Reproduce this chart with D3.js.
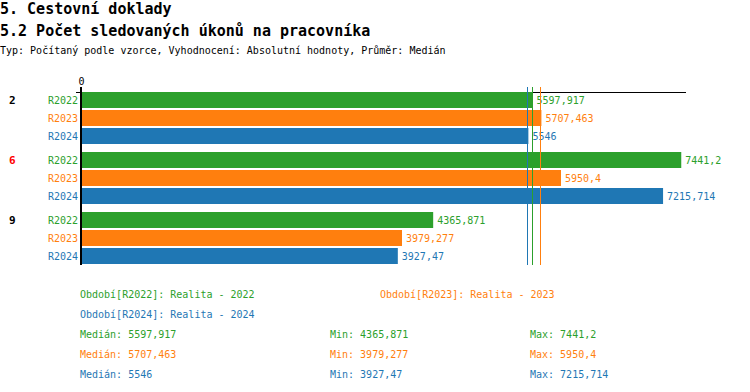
<!DOCTYPE html>
<html><head><meta charset="utf-8">
<script src="https://cdn.jsdelivr.net/npm/d3@7"></script>
<style>body{margin:0;background:#fff}text{font-family:"DejaVu Sans Mono",monospace}</style>
</head><body>
<svg id="c" width="750" height="392"></svg>
<script>
const categories = ["2","6","9"];
const categoryColors = ["#000000","#ff0000","#000000"];
const series = ["R2022","R2023","R2024"];
const seriesColors = ["#2ca02c","#ff7f0e","#1f77b4"];
const values2022 = [5597.917, 7441.2, 4365.871];
const values2023 = [5707.463, 5950.4, 3979.277];
const values2024 = [5546, 7215.714, 3927.47];
const medians = [5597.917, 5707.463, 5546];
const mins = [4365.871, 3979.277, 3927.47];
const maxs = [7441.2, 5950.4, 7215.714];
const legendNames = ["Období[R2022]: Realita - 2022","Období[R2023]: Realita - 2023","Období[R2024]: Realita - 2024"];
const xTicks = [0];

const allValues = [values2022, values2023, values2024];
const fmt = v => String(v).replace(".", ",");
const svg = d3.select("#c");

svg.append("text").attr("x",0).attr("y",14).attr("font-size",15).attr("font-weight","bold").text("5. Cestovní doklady");
svg.append("text").attr("x",0).attr("y",36).attr("font-size",15).attr("font-weight","bold").text("5.2 Počet sledovaných úkonů na pracovníka");
svg.append("text").attr("x",0).attr("y",54).attr("font-size",10).text("Typ: Počítaný podle vzorce, Vyhodnocení: Absolutní hodnoty, Průměr: Medián");

const x = d3.scaleLinear().domain([0,7500]).range([81,686]);
const y0 = d3.scaleBand().domain(categories).range([92,272]);
const y1 = d3.scaleBand().domain(series).range([0,52]).paddingInner(2/18);

// top axis
const ax = svg.append("g").attr("transform","translate(0,92)")
  .call(d3.axisTop(x).tickValues(xTicks).tickSize(0).tickPadding(7).tickFormat(d3.format("d")));
ax.select(".domain").remove();
ax.selectAll("text").attr("font-size",10).attr("font-family","DejaVu Sans Mono").attr("fill","#000");
svg.append("line").attr("x1",76).attr("x2",x(7500)).attr("y1",92.5).attr("y2",92.5).attr("stroke","#000");

categories.forEach((c,ci)=>{
  const gy = y0(c);
  svg.append("text").attr("x",9).attr("y",gy+y1.bandwidth()/2+4).attr("font-size",11).attr("font-weight","bold")
    .attr("fill",categoryColors[ci]).text(c);
  series.forEach((s,si)=>{
    const v = allValues[si][ci];
    const by = gy + y1(s);
    svg.append("rect").attr("x",x(0)).attr("y",by).attr("width",x(v)-x(0)).attr("height",y1.bandwidth()).attr("fill",seriesColors[si]);
    svg.append("text").attr("x",78).attr("y",by+y1.bandwidth()/2+4).attr("text-anchor","end").attr("font-size",10)
      .attr("fill",seriesColors[si]).text(s);
    svg.append("text").attr("x",x(v)+4).attr("y",by+y1.bandwidth()/2+4).attr("font-size",10)
      .attr("fill",seriesColors[si]).text(fmt(v));
  });
});

// vertical axis line
svg.append("line").attr("x1",x(0)).attr("x2",x(0)).attr("y1",87).attr("y2",265).attr("stroke","#000").attr("stroke-width",2);

// median lines
medians.forEach((m,i)=>{
  svg.append("line").attr("x1",Math.round(x(m))-0.5).attr("x2",Math.round(x(m))-0.5).attr("y1",87).attr("y2",265)
    .attr("stroke",seriesColors[i]).attr("stroke-width",1);
});

// legend
const legPos = [[80,298],[380,298],[80,318]];
legendNames.forEach((n,i)=>{
  svg.append("text").attr("x",legPos[i][0]).attr("y",legPos[i][1]).attr("font-size",10).attr("fill",seriesColors[i]).text(n);
});
series.forEach((s,i)=>{
  const yy = 338 + i*20;
  svg.append("text").attr("x",80).attr("y",yy).attr("font-size",10).attr("fill",seriesColors[i]).text("Medián: "+fmt(medians[i]));
  svg.append("text").attr("x",330).attr("y",yy).attr("font-size",10).attr("fill",seriesColors[i]).text("Min: "+fmt(mins[i]));
  svg.append("text").attr("x",530).attr("y",yy).attr("font-size",10).attr("fill",seriesColors[i]).text("Max: "+fmt(maxs[i]));
});
</script>
</body></html>
